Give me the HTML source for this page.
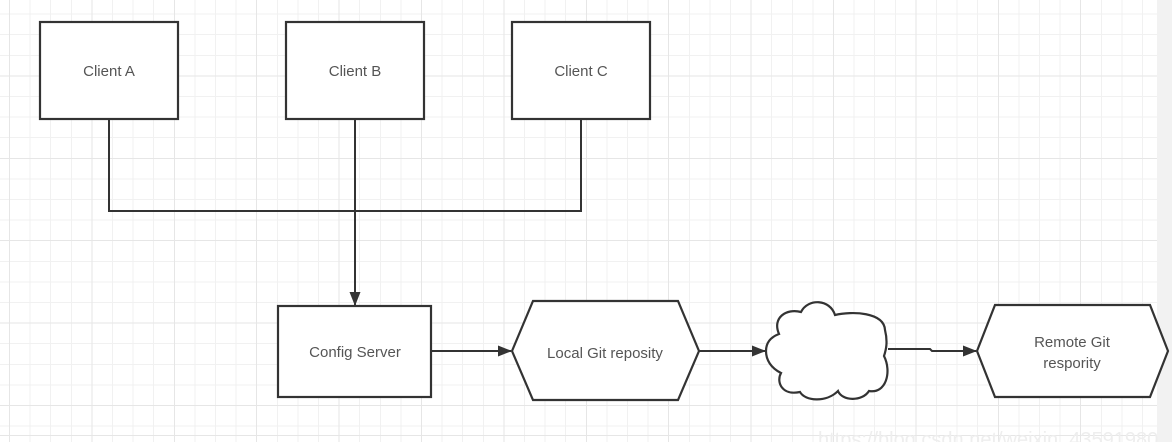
<!DOCTYPE html>
<html><head><meta charset="utf-8"><style>
html,body{margin:0;padding:0;background:#fff;}
#bg{position:absolute;left:0;top:0;width:1172px;height:442px;
background-image:
repeating-linear-gradient(to right, #e6e6e6 0, #e6e6e6 1px, transparent 1px, transparent 82.4px),
repeating-linear-gradient(to bottom, #e6e6e6 0, #e6e6e6 1px, transparent 1px, transparent 82.4px),
repeating-linear-gradient(to right, #f1f1f1 0, #f1f1f1 1px, transparent 1px, transparent 20.6px),
repeating-linear-gradient(to bottom, #f1f1f1 0, #f1f1f1 1px, transparent 1px, transparent 20.6px);
background-position:9px 0, 0 -7px, 9px 0, 0 -7px;}
svg{position:absolute;left:0;top:0;display:block;}
text{font-family:"Liberation Sans","DejaVu Sans",sans-serif;fill:#555;font-size:15px;}
</style></head><body>
<div id="bg"></div>
<svg width="1172" height="442" viewBox="0 0 1172 442" xmlns="http://www.w3.org/2000/svg">
<defs>
<marker id="a" markerWidth="14" markerHeight="12" refX="13" refY="6" orient="auto" markerUnits="userSpaceOnUse">
<path d="M0,0.5 L14,6 L0,11.5 Z" fill="#333"/>
</marker>
</defs>
<rect x="1157" y="0" width="15" height="442" fill="#f2f2f2"/>
<text x="818" y="446" style="font-size:20px;fill:#eeeeee">https://blog.csdn.net/weixin_43591980</text>
<g stroke="#333" stroke-width="2" fill="none">
<path d="M109 119V211H581V119"/>
<path d="M355 119V305" marker-end="url(#a)"/>
<path d="M431 351H511" marker-end="url(#a)"/>
<path d="M699 351H765" marker-end="url(#a)"/>
<path d="M888 349H930L932 351H976" marker-end="url(#a)"/>
</g>
<g stroke="#333" stroke-width="2.2" fill="#fff">
<rect x="40" y="22" width="138" height="97"/>
<rect x="286" y="22" width="138" height="97"/>
<rect x="512" y="22" width="138" height="97"/>
<rect x="278" y="306" width="153" height="91"/>
<polygon points="512,351 533,301 678,301 699,351 678,400 533,400"/>
<polygon points="977,351 995,305 1150,305 1168,351 1150,397 995,397"/>
<path d="M766,351 C766,342 771,337 779,334 C772,318 786,308 801,312 C808,298 830,299 835,315 C852,311 884,312 885,330 C888,342 886,350 884,356 C892,372 886,394 869,391 C862,402 842,401 838,391 C826,403 805,401 800,392 C782,396 776,382 781,373 C771,368 766,360 766,351 Z"/>
</g>
<text x="109" y="76" text-anchor="middle">Client A</text>
<text x="355" y="76" text-anchor="middle">Client B</text>
<text x="581" y="76" text-anchor="middle">Client C</text>
<text x="355" y="357" text-anchor="middle">Config Server</text>
<text x="605" y="358" text-anchor="middle">Local Git reposity</text>
<text x="1072" y="347" text-anchor="middle">Remote Git</text>
<text x="1072" y="368" text-anchor="middle">respority</text>
</svg>
</body></html>
